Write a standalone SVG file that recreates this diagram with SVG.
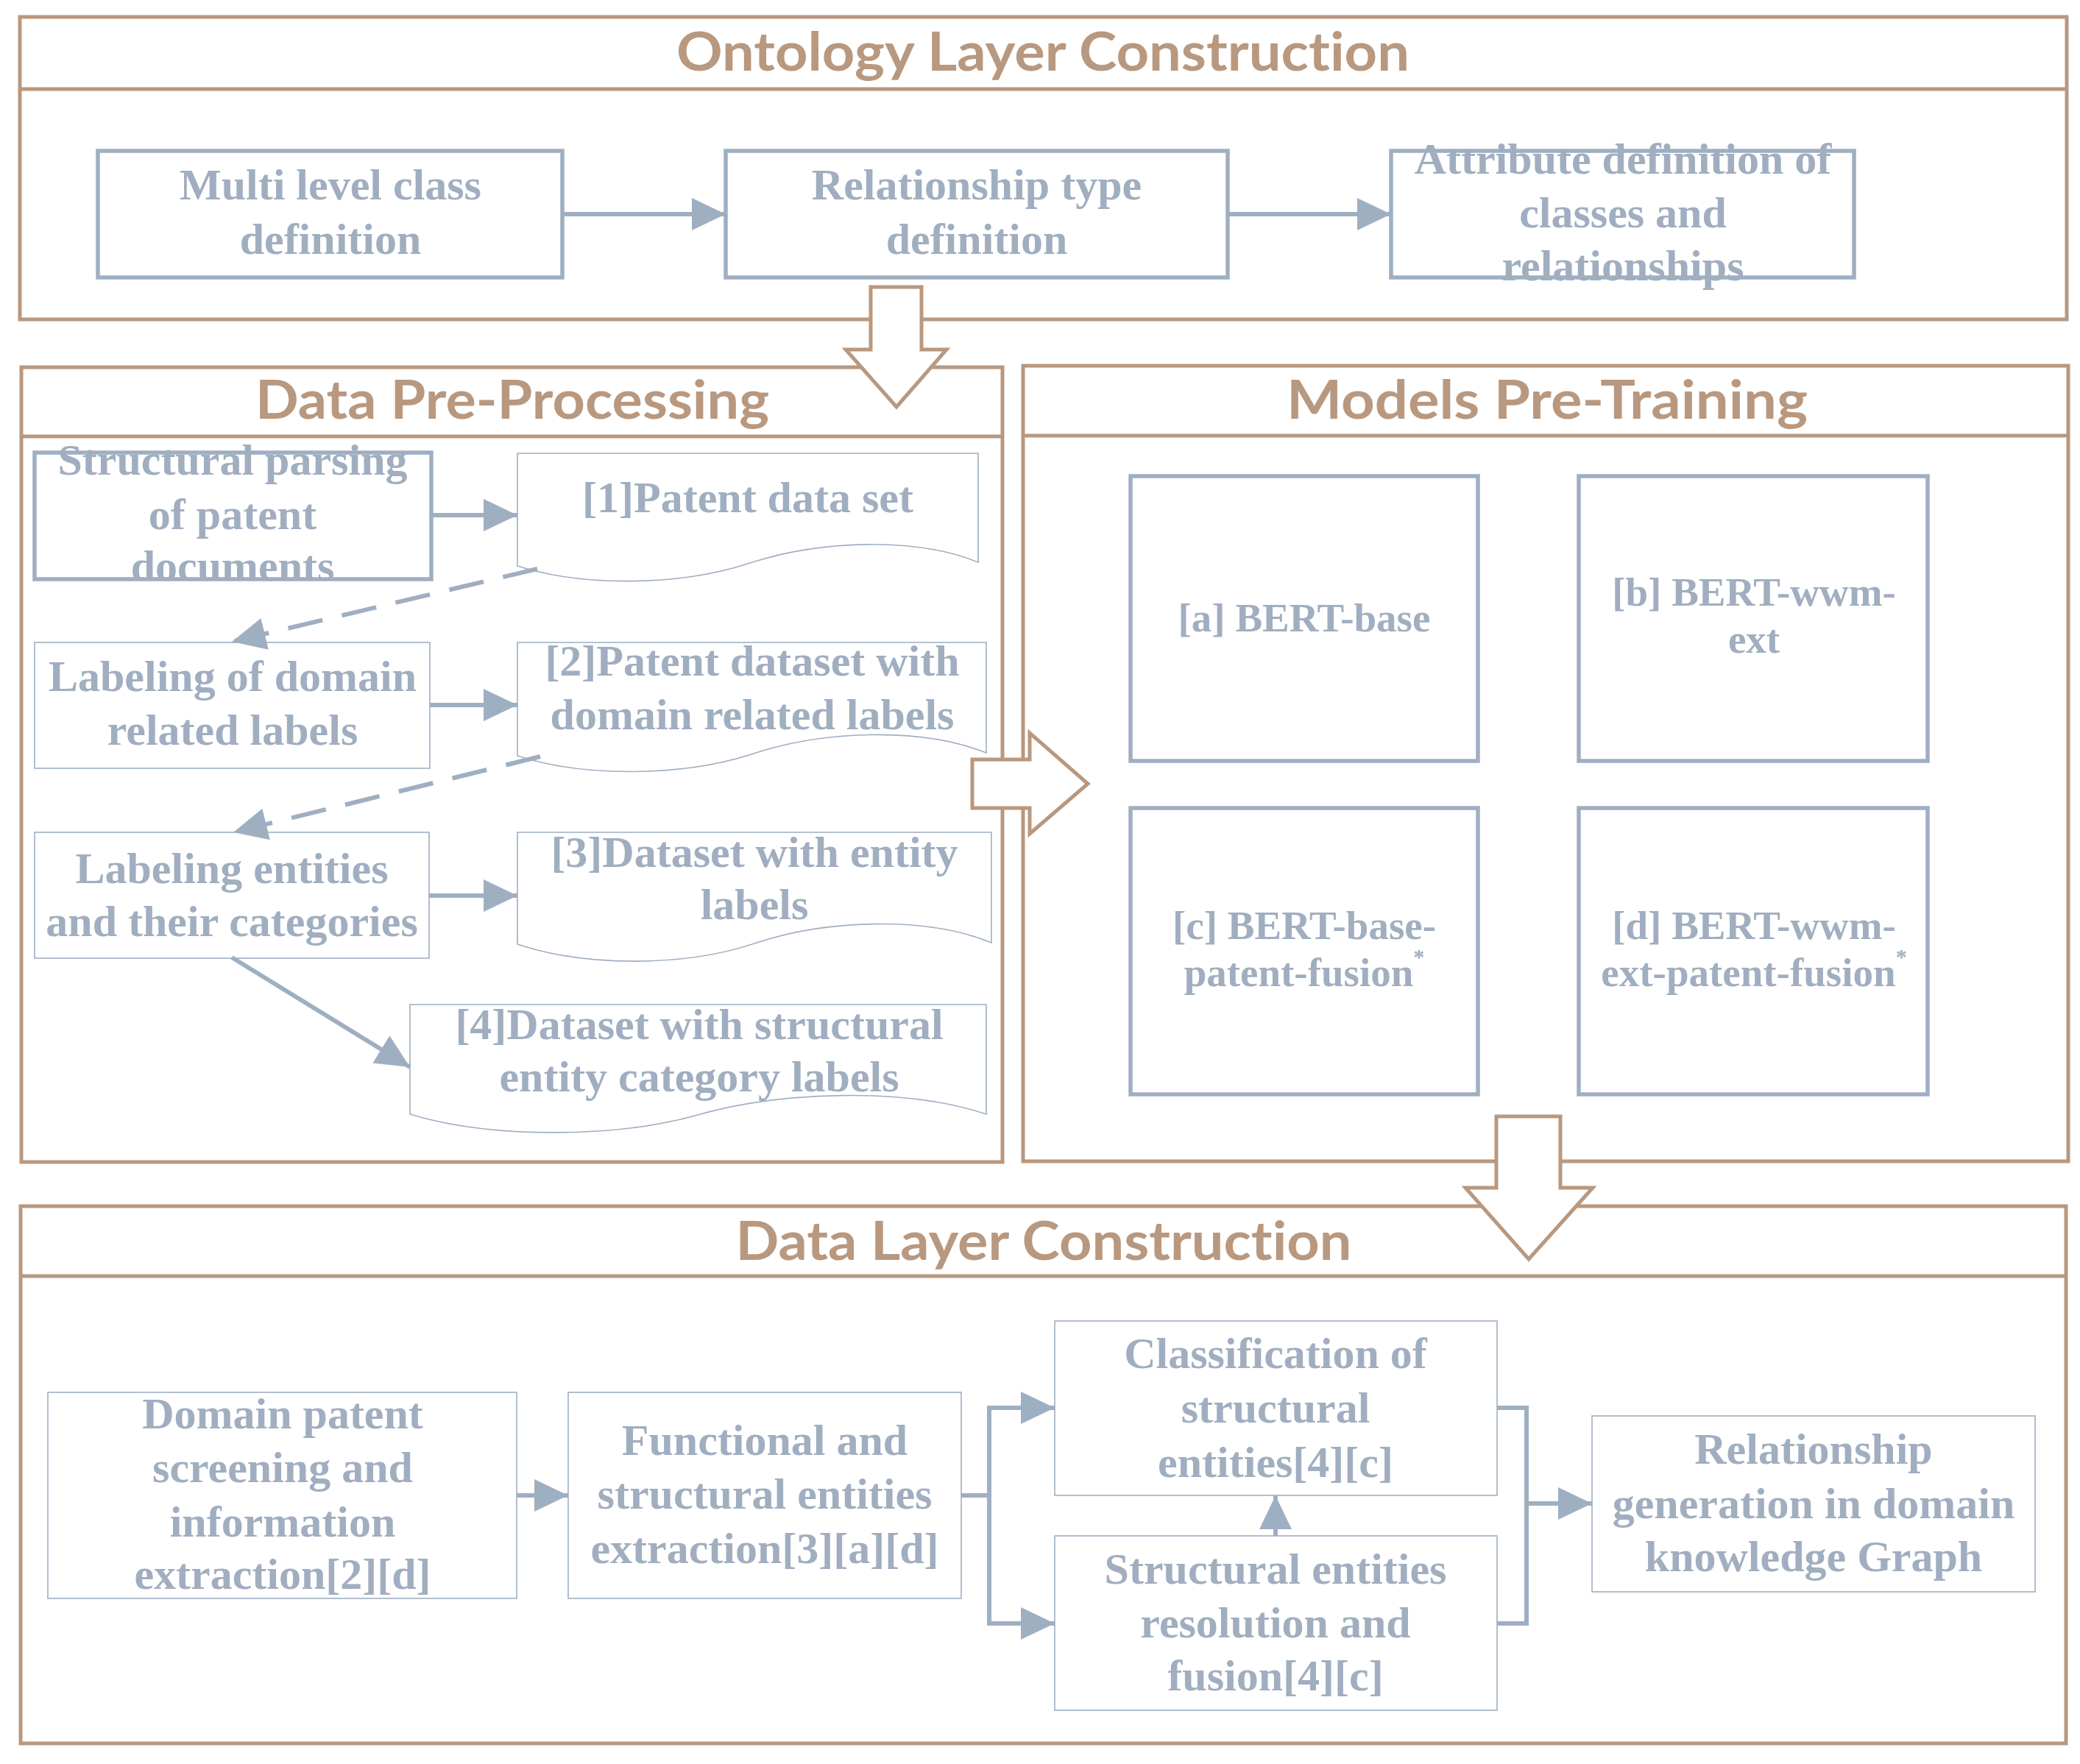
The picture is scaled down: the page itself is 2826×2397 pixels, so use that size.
<svg xmlns="http://www.w3.org/2000/svg" width="2826" height="2397" viewBox="0 0 2826 2397">
<defs>
<style>
.frame{fill:none;stroke:#B8987F;stroke-width:5}
.blk{fill:#FFFFFF;stroke:#B8987F;stroke-width:5;stroke-linejoin:miter}
.title{font-family:"Lato","Open Sans",sans-serif;font-weight:bold;font-size:72px;fill:#B8987F;text-anchor:middle;font-variant-ligatures:none}
.thick{fill:#FFFFFF;stroke:#9FAFC2;stroke-width:5.5}
.thin{fill:#FFFFFF;stroke:#9FAFC2;stroke-width:1.6}
.t{font-family:"Liberation Serif","Times New Roman",serif;font-weight:bold;font-size:60px;fill:#A0AEC0;text-anchor:middle}
.m{font-family:"Liberation Serif","Times New Roman",serif;font-weight:bold;font-size:55px;fill:#A0AEC0;text-anchor:middle}
.c{fill:none;stroke:#9FAFC2;stroke-width:6}
.d{fill:none;stroke:#9FAFC2;stroke-width:6;stroke-dasharray:48 27}
</style>
<marker id="ah" markerUnits="userSpaceOnUse" markerWidth="46" markerHeight="46" viewBox="0 0 44 42" refX="44" refY="21" orient="auto">
<path d="M0,0 L44,21 L0,42 Z" fill="#9FAFC2"/>
</marker>
</defs>
<rect width="2826" height="2397" fill="#FFFFFF"/>

<g id="ontology-layer">
<rect class="frame" x="27" y="23" width="2781" height="411"/>
<line class="frame" x1="27" y1="121" x2="2808" y2="121"/>
<text class="title" x="1417" y="96" textLength="996" lengthAdjust="spacingAndGlyphs">Ontology Layer Construction</text>
</g>

<g id="data-preprocessing">
<rect class="frame" x="29" y="499" width="1333" height="1080"/>
<line class="frame" x1="29" y1="593" x2="1362" y2="593"/>
<text class="title" x="696" y="569" textLength="698" lengthAdjust="spacingAndGlyphs">Data Pre-Processing</text>
</g>

<g id="models-pretraining">
<rect class="frame" x="1390" y="497" width="1420" height="1081"/>
<line class="frame" x1="1390" y1="592" x2="2810" y2="592"/>
<text class="title" x="2102" y="569" textLength="708" lengthAdjust="spacingAndGlyphs">Models Pre-Training</text>
</g>

<g id="data-layer">
<rect class="frame" x="28" y="1639" width="2779" height="730"/>
<line class="frame" x1="28" y1="1734" x2="2807" y2="1734"/>
<text class="title" x="1418" y="1712" textLength="837" lengthAdjust="spacingAndGlyphs">Data Layer Construction</text>
</g>

<g id="n-multi-level">
<rect class="thick" x="133" y="205" width="631" height="172"/>
<text class="t" x="449" y="271">Multi level class</text>
<text class="t" x="449" y="345">definition</text>
</g>
<g id="n-relationship-type">
<rect class="thick" x="986" y="205" width="682" height="172"/>
<text class="t" x="1327" y="271">Relationship type</text>
<text class="t" x="1327" y="345">definition</text>
</g>
<g id="n-attribute">
<rect class="thick" x="1890" y="205" width="629" height="172"/>
<text class="t" x="2205" y="236">Attribute definition of</text>
<text class="t" x="2205" y="309">classes and</text>
<text class="t" x="2205" y="381">relationships</text>
</g>

<g id="n-structural-parsing">
<rect class="thick" x="47" y="615" width="539" height="172"/>
<text class="t" x="316" y="645">Structural parsing</text>
<text class="t" x="316" y="719">of patent</text>
<text class="t" x="316" y="789">documents</text>
</g>
<g id="n-dataset1">
<path class="thin" d="M703,616 H1329 V764 C1240,728 1110,735 1016,766 C920,797 790,797 703,769 Z"/>
<text class="t" x="1016" y="696">[1]Patent data set</text>
</g>
<g id="n-labeling-domain">
<rect class="thin" x="47" y="873" width="537" height="171"/>
<text class="t" x="316" y="939">Labeling of domain</text>
<text class="t" x="316" y="1012">related labels</text>
</g>
<g id="n-dataset2">
<path class="thin" d="M703,873 H1340 V1023 C1250,987 1115,993 1021,1025 C925,1056 792,1056 703,1027 Z"/>
<text class="t" x="1022" y="918">[2]Patent dataset with</text>
<text class="t" x="1022" y="991">domain related labels</text>
</g>
<g id="n-labeling-entities">
<rect class="thin" x="47" y="1131" width="536" height="171"/>
<text class="t" x="315" y="1200">Labeling entities</text>
<text class="t" x="315" y="1272">and their categories</text>
</g>
<g id="n-dataset3">
<path class="thin" d="M703,1131 H1347 V1281 C1257,1244 1120,1250 1025,1282 C930,1314 795,1314 703,1283 Z"/>
<text class="t" x="1025" y="1178">[3]Dataset with entity</text>
<text class="t" x="1025" y="1249">labels</text>
</g>
<g id="n-dataset4">
<path class="thin" d="M557,1365 H1340 V1514 C1230,1477 1060,1483 948,1515 C835,1547 665,1547 557,1514 Z"/>
<text class="t" x="950" y="1412">[4]Dataset with structural</text>
<text class="t" x="950" y="1483">entity category labels</text>
</g>

<g id="n-bert-base">
<rect class="thick" x="1536" y="647" width="472" height="387"/>
<text class="m" x="1772" y="858">[a] BERT-base</text>
</g>
<g id="n-bert-wwm-ext">
<rect class="thick" x="2145" y="647" width="474" height="387"/>
<text class="m" x="2383" y="823">[b] BERT-wwm-</text>
<text class="m" x="2383" y="887">ext</text>
</g>
<g id="n-bert-base-patent">
<rect class="thick" x="1536" y="1098" width="472" height="389"/>
<text class="m" x="1772" y="1276">[c] BERT-base-</text>
<text class="m" x="1772" y="1340">patent-fusion<tspan font-size="30" dy="-30">*</tspan></text>
</g>
<g id="n-bert-wwm-patent">
<rect class="thick" x="2145" y="1098" width="474" height="389"/>
<text class="m" x="2383" y="1276">[d] BERT-wwm-</text>
<text class="m" x="2383" y="1340">ext-patent-fusion<tspan font-size="30" dy="-30">*</tspan></text>
</g>

<g id="n-domain-screening">
<rect class="thin" x="65" y="1892" width="637" height="280"/>
<text class="t" x="384" y="1941">Domain patent</text>
<text class="t" x="384" y="2014">screening and</text>
<text class="t" x="384" y="2088">information</text>
<text class="t" x="384" y="2159">extraction[2][d]</text>
</g>
<g id="n-functional">
<rect class="thin" x="772" y="1892" width="534" height="280"/>
<text class="t" x="1039" y="1977">Functional and</text>
<text class="t" x="1039" y="2050">structural entities</text>
<text class="t" x="1039" y="2124">extraction[3][a][d]</text>
</g>
<g id="n-classification">
<rect class="thin" x="1433" y="1795" width="601" height="237"/>
<text class="t" x="1733" y="1859">Classification of</text>
<text class="t" x="1733" y="1933">structural</text>
<text class="t" x="1733" y="2007">entities[4][c]</text>
</g>
<g id="n-resolution">
<rect class="thin" x="1433" y="2087" width="601" height="237"/>
<text class="t" x="1733" y="2152">Structural entities</text>
<text class="t" x="1733" y="2225">resolution and</text>
<text class="t" x="1733" y="2297">fusion[4][c]</text>
</g>
<g id="n-relationship-generation">
<rect class="thin" x="2163" y="1924" width="602" height="239"/>
<text class="t" x="2464" y="1989">Relationship</text>
<text class="t" x="2464" y="2063">generation in domain</text>
<text class="t" x="2464" y="2135">knowledge Graph</text>
</g>

<g id="connectors">
<path class="c" d="M764,291 H986" marker-end="url(#ah)"/>
<path class="c" d="M1668,291 H1890" marker-end="url(#ah)"/>
<path class="c" d="M586,700 H703" marker-end="url(#ah)"/>
<path class="d" d="M730,773 L315,872" marker-end="url(#ah)"/>
<path class="c" d="M584,958 H703" marker-end="url(#ah)"/>
<path class="d" d="M734,1028 L317,1131" marker-end="url(#ah)"/>
<path class="c" d="M583,1217 H703" marker-end="url(#ah)"/>
<path class="c" d="M315,1301 L557,1450" marker-end="url(#ah)"/>
<path class="c" d="M702,2032 H772" marker-end="url(#ah)"/>
<path class="c" d="M1306,2032 H1344 V1913 H1433" marker-end="url(#ah)"/>
<path class="c" d="M1306,2032 H1344 V2206 H1433" marker-end="url(#ah)"/>
<path class="c" d="M1733,2087 V2032" marker-end="url(#ah)"/>
<path class="c" d="M2034,1913 H2074 V2206 H2034"/>
<path class="c" d="M2074,2043 H2163" marker-end="url(#ah)"/>
<polygon class="blk" points="1183,390 1252,390 1252,475 1286,475 1218,553 1149,475 1183,475"/>
<polygon class="blk" points="1321,1032 1399,1032 1399,996 1478,1065 1399,1133 1399,1098 1321,1098"/>
<polygon class="blk" points="2033,1517 2120,1517 2120,1614 2164,1614 2077,1711 1991,1614 2033,1614"/>
</g>
</svg>
